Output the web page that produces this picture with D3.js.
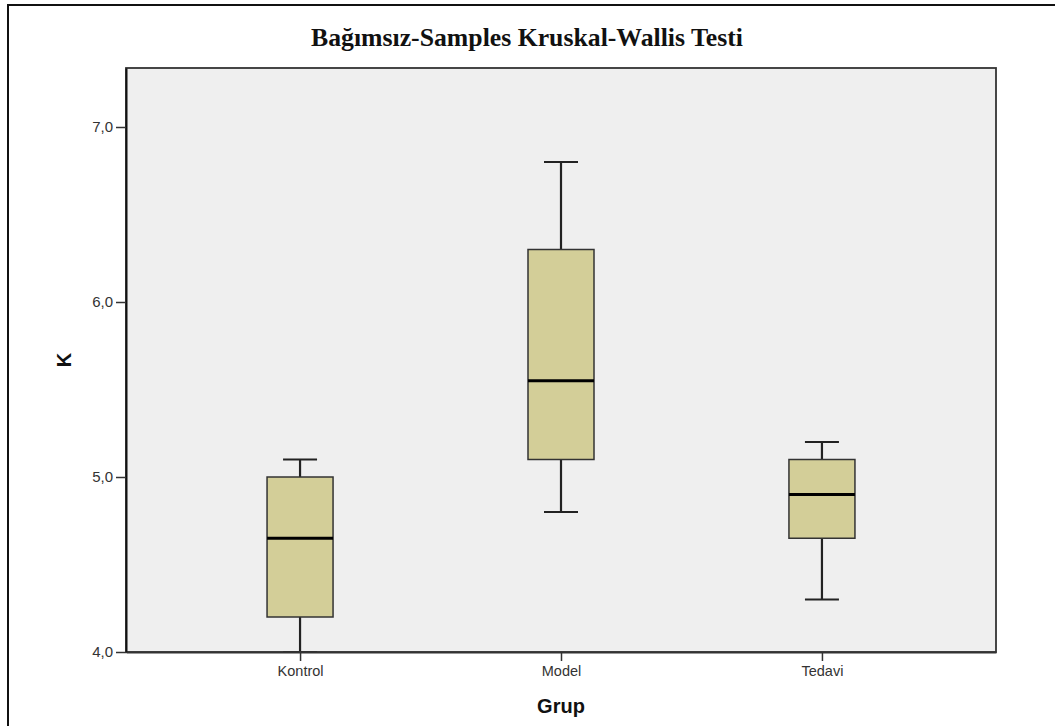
<!DOCTYPE html>
<html><head><meta charset="utf-8">
<script src="https://cdn.jsdelivr.net/npm/d3@7"></script>
<style>body{margin:0;background:#fff}svg{display:block}</style>
</head><body>
<svg id="c" width="1055" height="726"></svg>
<script>
const categories = ["Kontrol", "Model", "Tedavi"];
const whiskerMin = [4.0, 4.8, 4.3];
const q1 = [4.2, 5.1, 4.65];
const median = [4.65, 5.55, 4.9];
const q3 = [5.0, 6.3, 5.1];
const whiskerMax = [5.1, 6.8, 5.2];
const yTicks = [4.0, 5.0, 6.0, 7.0];
const title = "Bağımsız-Samples Kruskal-Wallis Testi";
const xTitle = "Grup", yTitle = "K";

const svg = d3.select("#c");
const L = 126, T = 68, R = 996, B = 652;

// outer frame
svg.append("rect").attr("x", 8).attr("y", 5).attr("width", 1100).attr("height", 800)
  .attr("fill", "none").attr("stroke", "#111").attr("stroke-width", 2);

svg.append("text").attr("x", 527).attr("y", 46).attr("text-anchor", "middle")
  .attr("font-family", "Liberation Serif, Times New Roman, serif").attr("font-weight", "bold")
  .attr("font-size", 25).attr("fill", "#111")
  .attr("textLength", 432).attr("lengthAdjust", "spacingAndGlyphs").text(title);

const y = d3.scaleLinear().domain([4.0, 4.0 + (B - T) / 175]).range([B, T]);
const x = d3.scalePoint().domain(categories).range([L, R]).padding(0.667);

// plot background
svg.append("rect").attr("x", L).attr("y", T).attr("width", R - L).attr("height", B - T)
  .attr("fill", "#efefef");

const data = categories.map((c, i) => ({c, lo: whiskerMin[i], q1: q1[i], med: median[i], q3: q3[i], hi: whiskerMax[i]}));
const bw = 66, cw = 34;
const g = svg.append("g");
data.forEach(d => {
  const cx = x(d.c);
  g.append("line").attr("x1", cx).attr("x2", cx).attr("y1", y(d.q3)).attr("y2", y(d.hi)).attr("stroke", "#222").attr("stroke-width", 2.2);
  g.append("line").attr("x1", cx).attr("x2", cx).attr("y1", y(d.lo)).attr("y2", y(d.q1)).attr("stroke", "#222").attr("stroke-width", 2.2);
  g.append("line").attr("x1", cx - cw/2).attr("x2", cx + cw/2).attr("y1", y(d.hi)).attr("y2", y(d.hi)).attr("stroke", "#222").attr("stroke-width", 2.2);
  g.append("line").attr("x1", cx - cw/2).attr("x2", cx + cw/2).attr("y1", y(d.lo)).attr("y2", y(d.lo)).attr("stroke", "#222").attr("stroke-width", 2.2);
  g.append("rect").attr("x", cx - bw/2).attr("y", y(d.q3)).attr("width", bw).attr("height", y(d.q1) - y(d.q3))
    .attr("fill", "#d3ce98").attr("stroke", "#333").attr("stroke-width", 1.5);
  g.append("line").attr("x1", cx - bw/2).attr("x2", cx + bw/2).attr("y1", y(d.med)).attr("y2", y(d.med)).attr("stroke", "#000").attr("stroke-width", 3);
});

// plot border
svg.append("rect").attr("x", L).attr("y", T).attr("width", R - L).attr("height", B - T)
  .attr("fill", "none").attr("stroke", "#333").attr("stroke-width", 1.8);

const fmt = d => d.toFixed(1).replace(".", ",");
const yAxis = svg.append("g").attr("transform", `translate(${L},0)`)
  .call(d3.axisLeft(y).tickValues(yTicks).tickFormat(fmt).tickSize(10).tickSizeOuter(0).tickPadding(3));
yAxis.select(".domain").attr("stroke", "#111").attr("stroke-width", 2);
yAxis.selectAll(".tick line").attr("stroke", "#333").attr("stroke-width", 1.5);
yAxis.selectAll("text").attr("font-family", "Liberation Sans, Arial, sans-serif").attr("font-size", 15).attr("fill", "#333");

const xAxis = svg.append("g").attr("transform", `translate(0,${B})`)
  .call(d3.axisBottom(x).tickSize(9).tickSizeOuter(0).tickPadding(5));
xAxis.select(".domain").attr("stroke", "#333").attr("stroke-width", 1.8);
xAxis.selectAll(".tick line").attr("stroke", "#333").attr("stroke-width", 1.5);
xAxis.selectAll("text").attr("font-family", "Liberation Sans, Arial, sans-serif").attr("font-size", 14.5).attr("fill", "#333");

svg.append("text").attr("x", x("Model")).attr("y", 713).attr("text-anchor", "middle")
  .attr("font-family", "Liberation Sans, Arial, sans-serif").attr("font-weight", "bold").attr("font-size", 20).attr("fill", "#111").text(xTitle);
svg.append("text").attr("transform", "translate(71,360) rotate(-90)").attr("text-anchor", "middle")
  .attr("font-family", "Liberation Sans, Arial, sans-serif").attr("font-weight", "bold").attr("font-size", 20).attr("fill", "#111").text(yTitle);
</script>
</body></html>
